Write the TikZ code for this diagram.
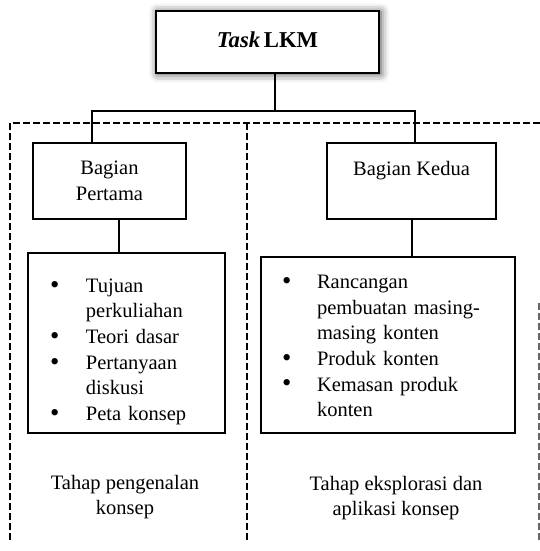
\documentclass[tikz,border=0pt]{standalone}
\usepackage{fontspec}
\setmainfont{Liberation Serif}
\usetikzlibrary{shadows.blur}
\newcommand{\bul}{\raisebox{-0.04em}{\scalebox{1.3}{\textbullet}}}

\begin{document}
\begin{tikzpicture}[x=0.6pt,y=-0.6pt,
  box/.style={draw,fill=white,line width=1.5pt,inner sep=0pt,align=center,
    font=\fontsize{12.3}{15.4}\selectfont},
  listbox/.style={box,align=left},
  conn/.style={line width=1.5pt},
  panel/.style={line width=1.2pt,dash pattern=on 4pt off 2pt},
  stage/.style={align=center,font=\fontsize{12.3}{14.6}\selectfont}]
\useasboundingbox (0,0) rectangle (539,551);
\draw[panel] (10,540) -- (10,123) -- (545,123);
\draw[panel] (247,123) -- (247,540);
\draw[panel,black!60] (538.8,303) -- (538.8,540);
\node[box,minimum width=133.8pt,minimum height=37.2pt,
  font=\fontsize{13.6}{16}\selectfont\bfseries,
  blur shadow={shadow blur radius=5pt,shadow xshift=1pt,shadow yshift=-0.5pt,shadow opacity=75}]
  (task) at (267.5,42) {\raisebox{2.5pt}{\textit{Task}\,LKM}};
\node[box,minimum width=91.8pt,minimum height=45.6pt] (first) at (109.5,181) {Bagian\\Pertama};
\node[box,minimum width=101.4pt,minimum height=45.6pt] (second) at (411.5,181) {Bagian Kedua\\\mbox{}};
\node[listbox,text width=91.8pt,inner xsep=13.2pt,minimum height=108pt] (list1) at (126.5,343)
  {\raisebox{-5pt}[\height][\depth]{\begin{tabular}{@{}p{21.6pt}@{}l@{}}
   \bul & Tujuan\\ & perkuliahan\\ \bul & Teori dasar\\
   \bul & Pertanyaan\\ & diskusi\\ \bul & Peta konsep
   \end{tabular}}};
\node[listbox,text width=127.2pt,inner xsep=12.6pt,minimum height=105.6pt] (list2) at (388,345)
  {\raisebox{-1.5pt}[\height][\depth]{\begin{tabular}{@{}p{21pt}@{}l@{}}
   \bul & Rancangan\\ & pembuatan masing-\\ & masing konten\\
   \bul & Produk konten\\ \bul & Kemasan produk\\ & konten
   \end{tabular}}};
\node[stage] (stage1) at (125,497) {Tahap pengenalan\\konsep};
\node[stage] (stage2) at (396,498) {Tahap eksplorasi dan\\aplikasi konsep};
\coordinate (stem) at (275,111);
\coordinate (barL) at (92,111);
\coordinate (barR) at (415,111);
\coordinate (drop1) at (119,0);
\coordinate (drop2) at (412,0);
\draw[conn] (task.south -| stem) -- (stem);
\draw[conn] (first.north -| barL) -- (barL) -- (barR) -- (second.north -| barR);
\draw[conn] (first.south -| drop1) -- (list1.north -| drop1);
\draw[conn] (second.south -| drop2) -- (list2.north -| drop2);
\end{tikzpicture}
\end{document}
